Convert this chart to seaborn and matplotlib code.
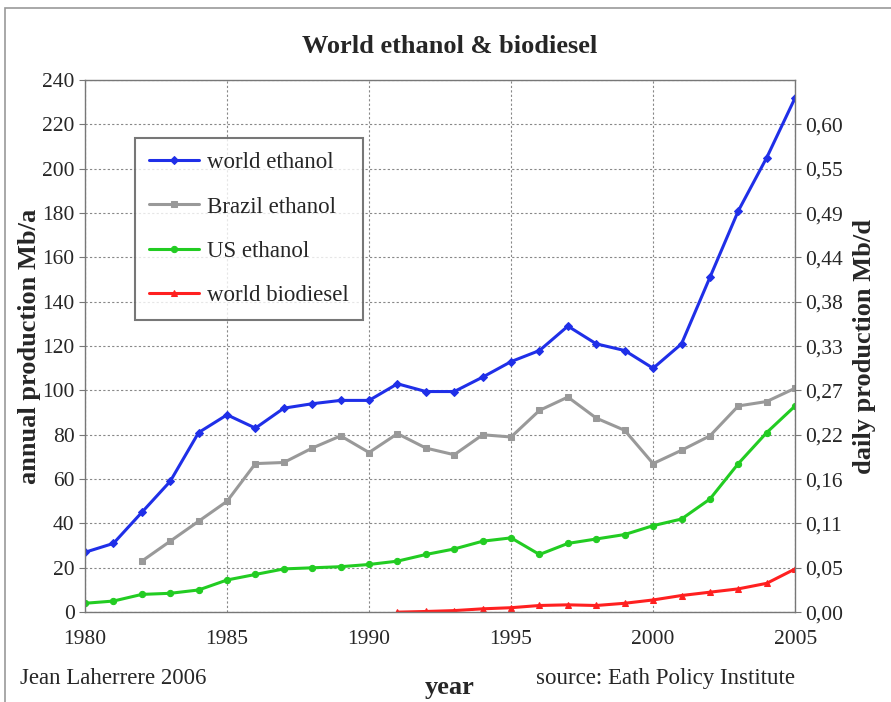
import numpy as np
import pandas as pd
import matplotlib
matplotlib.use('Agg')
import matplotlib.pyplot as plt
import seaborn as sns
from matplotlib.patches import Rectangle

# data (Mb/a)
years = list(range(1980, 2006))
world_ethanol = [27, 31, 45, 59, 81, 89, 83, 92, 94, 95.5, 95.5, 103, 99.5, 99.5,
                 106, 113, 118, 129, 121, 118, 110, 121, 151, 181, 205, 232]
brazil_ethanol = [np.nan, np.nan, 23, 32, 41, 50, 67, 67.5, 74, 79.5, 72, 80.5, 74, 71,
                  80, 79, 91, 97, 87.5, 82, 67, 73, 79.5, 93, 95, 101]
us_ethanol = [4, 5, 8, 8.5, 10, 14.5, 17, 19.5, 20, 20.5, 21.5, 23, 26, 28.5,
              32, 33.5, 26, 31, 33, 35, 39, 42, 51, 67, 81, 93]
world_biodiesel = [np.nan] * 11 + [0, 0.3, 0.7, 1.5, 2, 3, 3.3, 3, 4, 5.5, 7.5, 9, 10.5, 13, 19.5]

series = {
    'world ethanol': (world_ethanol, '#1f2fe8', 'D'),
    'Brazil ethanol': (brazil_ethanol, '#999999', 's'),
    'US ethanol': (us_ethanol, '#22cc22', 'o'),
    'world biodiesel': (world_biodiesel, '#ff2020', '^'),
}

sns.set_style('white')
plt.rcParams['font.family'] = ['Liberation Serif', 'DejaVu Serif']

fig = plt.figure(figsize=(8.91, 7.02), dpi=100)
ax = fig.add_axes([0.0954, 0.128, 0.797, 0.758])

df = pd.DataFrame({'year': years})
for name, (vals, col, mk) in series.items():
    df[name] = vals
    sns.lineplot(data=df, x='year', y=name, ax=ax, color=col, marker=mk,
                 markersize=4.5, markeredgecolor=col, linewidth=2.2, label=name)

ax.set_xlim(1980, 2005)
ax.set_ylim(0, 240)
ax.set_xticks(range(1980, 2006, 5))
ax.set_yticks(range(0, 241, 20))
ax.grid(True, color='#888888', linestyle=(0, (2, 2)), linewidth=0.8)
for s in ax.spines.values():
    s.set_color('#777777')
    s.set_linewidth(1)
ax.tick_params(axis='both', direction='out', length=4, color='#777777',
               labelsize=15.5, width=0.8)
ax.tick_params(axis='x', pad=9)
ax.set_xlabel('')
ax.set_ylabel('annual production Mb/a', fontsize=19, fontweight='bold', labelpad=1)

ax2 = ax.twinx()
ax2.set_ylim(0, 240)
rticks = list(range(0, 221, 20))
ax2.set_yticks(rticks)
ax2.set_yticklabels([f'{v / 365:.2f}'.replace('.', ',') for v in rticks])
ax2.tick_params(axis='y', direction='out', length=4, color='#777777', labelsize=15.5, width=0.8)
for s in ax2.spines.values():
    s.set_visible(False)
ax2.set_ylabel('daily production Mb/d', fontsize=19, fontweight='bold', labelpad=7)

leg = ax.legend(loc='upper left', bbox_to_anchor=(0.1515, 0.803), bbox_transform=fig.transFigure,
                fontsize=16.5, frameon=True, fancybox=False, labelspacing=1.02,
                handlelength=2.2, handletextpad=0.35, borderpad=0.6, borderaxespad=0)
leg.get_frame().set_edgecolor('#555555')
leg.get_frame().set_linewidth(1.5)

fig.text(0.505, 0.934, 'World ethanol & biodiesel', ha='center', va='center',
         fontsize=19, fontweight='bold')
fig.text(0.505, 0.021, 'year', ha='center', va='center', fontsize=19, fontweight='bold')
fig.text(0.022, 0.034, 'Jean Laherrere 2006', ha='left', va='center', fontsize=16.5)
fig.text(0.892, 0.034, 'source: Eath Policy Institute', ha='right', va='center', fontsize=16.5)

fig.patches.append(Rectangle((0.006, -0.01), 1.0, 0.999, transform=fig.transFigure,
                             fill=False, edgecolor='#999999', linewidth=1.2))

fig.savefig('out.png', dpi=100)
